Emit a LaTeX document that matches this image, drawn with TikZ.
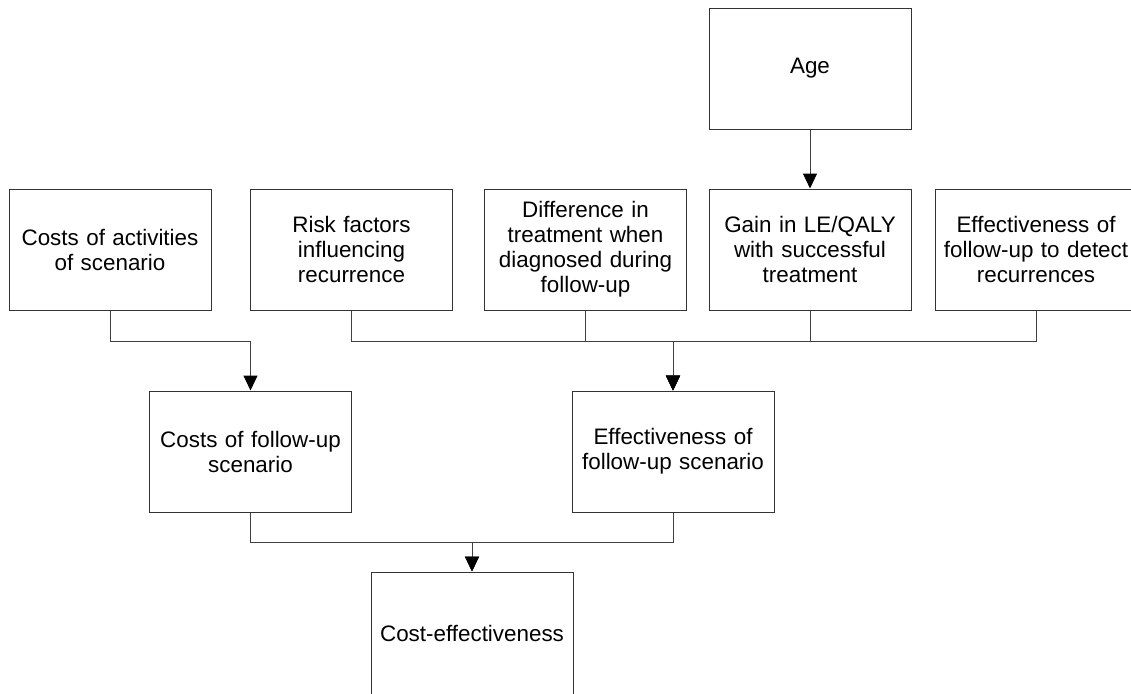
\documentclass[tikz,border=0pt]{standalone}
\usepackage{fontspec}
\setmainfont{Liberation Sans}
\usetikzlibrary{arrows.meta}

\begin{document}
\begin{tikzpicture}[x=0.75pt,y=-0.75pt,
  box/.style={draw=black!80, line width=0.75pt, fill=white,
    minimum width=151.5pt, minimum height=90.75pt, inner sep=0pt,
    text width=148pt, align=center,
    font=\fontsize{16.8}{18.75}\selectfont},
  link/.style={draw=black!75, line width=0.75pt,
    -{Triangle[length=11.25pt,width=10.5pt,color=black]}}]

% page frame
\useasboundingbox (0,0) rectangle (1131,693);

% boxes
\node[box] (age)    at (810,68.5)    {Age};
\node[box] (costact) at (110,249.5)  {Costs of activities\\of scenario};
\node[box] (risk)   at (351.5,249.5) {Risk factors\\influencing\\recurrence};
\node[box] (diff)   at (585.5,249.5) {Difference in\\treatment when\\diagnosed during\\follow-up};
\node[box] (gain)   at (810,249.5)   {Gain in LE/QALY\\with successful\\treatment};
\node[box] (effdet) at (1036,249.5)  {Effectiveness of\\follow-up to detect\\recurrences};
\node[box] (costfu) at (250.5,451.5) {Costs of follow-up\\scenario};
\node[box] (efffu)  at (673,451.5)   {Effectiveness of\\follow-up scenario};
\node[box, minimum height=92.25pt] (ce) at (472,633.5) {Cost-effectiveness};

% elbow levels of the connectors
\coordinate (busA) at (0,341);
\coordinate (busB) at (0,542);

% connectors
\draw[link] (age) -- (gain);
\draw[link] (costact.south) -- (costact.south |- busA) -| (costfu.north);
\draw[link] (risk.south)    -- (risk.south |- busA)    -| (efffu.north);
\draw[link] (diff.south)    -- (diff.south |- busA)    -| (efffu.north);
\draw[link] (gain.south)    -- (gain.south |- busA)    -| (efffu.north);
\draw[link] (effdet.south)  -- (effdet.south |- busA)  -| (efffu.north);
\draw[link] (costfu.south)  -- (costfu.south |- busB)  -| (ce.north);
\draw[link] (efffu.south)   -- (efffu.south |- busB)   -| (ce.north);
\end{tikzpicture}
\end{document}
